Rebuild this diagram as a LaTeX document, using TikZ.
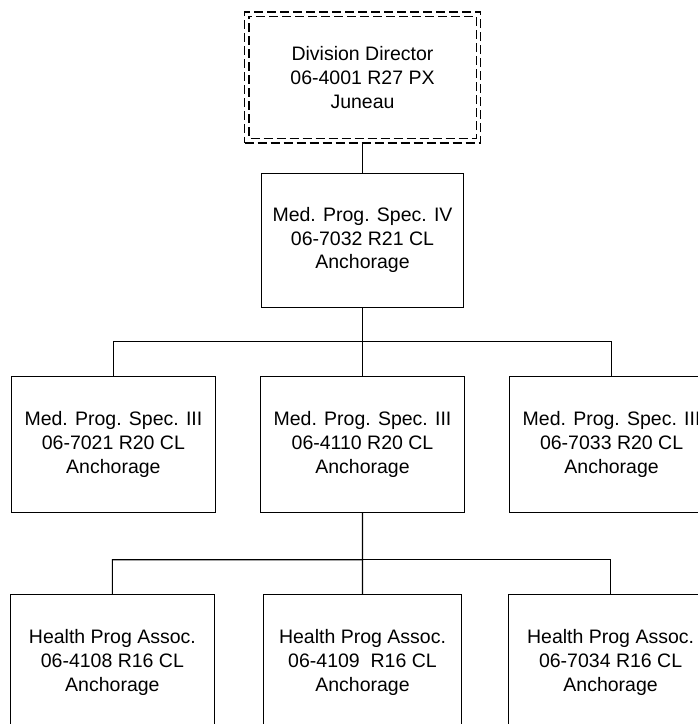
\documentclass[tikz,border=0pt]{standalone}
\usepackage{fontspec}
\setmainfont{Liberation Sans}
\usetikzlibrary{positioning,calc}

\begin{document}
\begin{tikzpicture}[x=1pt, y=-1pt,
  post/.style={draw, line width=1.1pt, rectangle, align=center, inner sep=0pt,
               minimum width=204pt, minimum height=136pt,
               font=\fontsize{19.5}{23.8}\selectfont},
  vacant/.style={post, line width=1.2pt, dash pattern=on 9pt off 4pt,
                 minimum width=236pt, minimum height=131pt},
  tie/.style={line width=1.1pt}]
\useasboundingbox (0,0) rectangle (698,724);
%\draw [help lines] (0,0) grid (698,724);

\node[vacant] (dir) at (362.5,77.5) {Division Director\\06-4001 R27 PX\\Juneau};
\draw[line width=1.2pt, dash pattern=on 9pt off 4pt, dash phase=6pt]
  ([shift={(5,5)}]dir.north west) rectangle ([shift={(-5,-5)}]dir.south east);
\node[post, below = 29pt of dir, minimum width=202pt, minimum height=134pt] (spec4) {Med. Prog. Spec. IV\\06-7032 R21 CL\\Anchorage};

\node[post, below = 68pt of spec4]             (spec3b) {Med. Prog. Spec. III\\06-4110 R20 CL\\Anchorage};
\node[post, left = 44pt of spec3b]             (spec3a) {Med. Prog. Spec. III\\06-7021 R20 CL\\Anchorage};
\node[post, right = 44pt of spec3b]            (spec3c) {Med. Prog. Spec. III\\06-7033 R20 CL\\Anchorage};

\node[post, below = 81pt of spec3b, minimum width=198pt] (assoc2) {Health Prog Assoc.\\06-4109\ \ R16 CL\\Anchorage};
\node[post, left = 48pt of assoc2]             (assoc1) {Health Prog Assoc.\\06-4108 R16 CL\\Anchorage};
\node[post, right = 46pt of assoc2]            (assoc3) {Health Prog Assoc.\\06-7034 R16 CL\\Anchorage};

% Edges
\coordinate (bus1) at ($(spec4.south)!0.5!(spec3b.north)$);
\coordinate (bus2) at ($(spec3b.south)!0.58!(assoc2.north)$);

\draw[tie] (dir) -- (spec4);
\draw[tie] (spec4) -- (bus1) -| (spec3a);
\draw[tie] (bus1) -| (spec3c);
\draw[tie] (bus1) -- (spec3b);
\draw[tie] (spec3b) -- (bus2) -| (assoc1);
\draw[tie] (bus2) -| (assoc3);
\draw[tie] (bus2) -- (assoc2);
\end{tikzpicture}
\end{document}
